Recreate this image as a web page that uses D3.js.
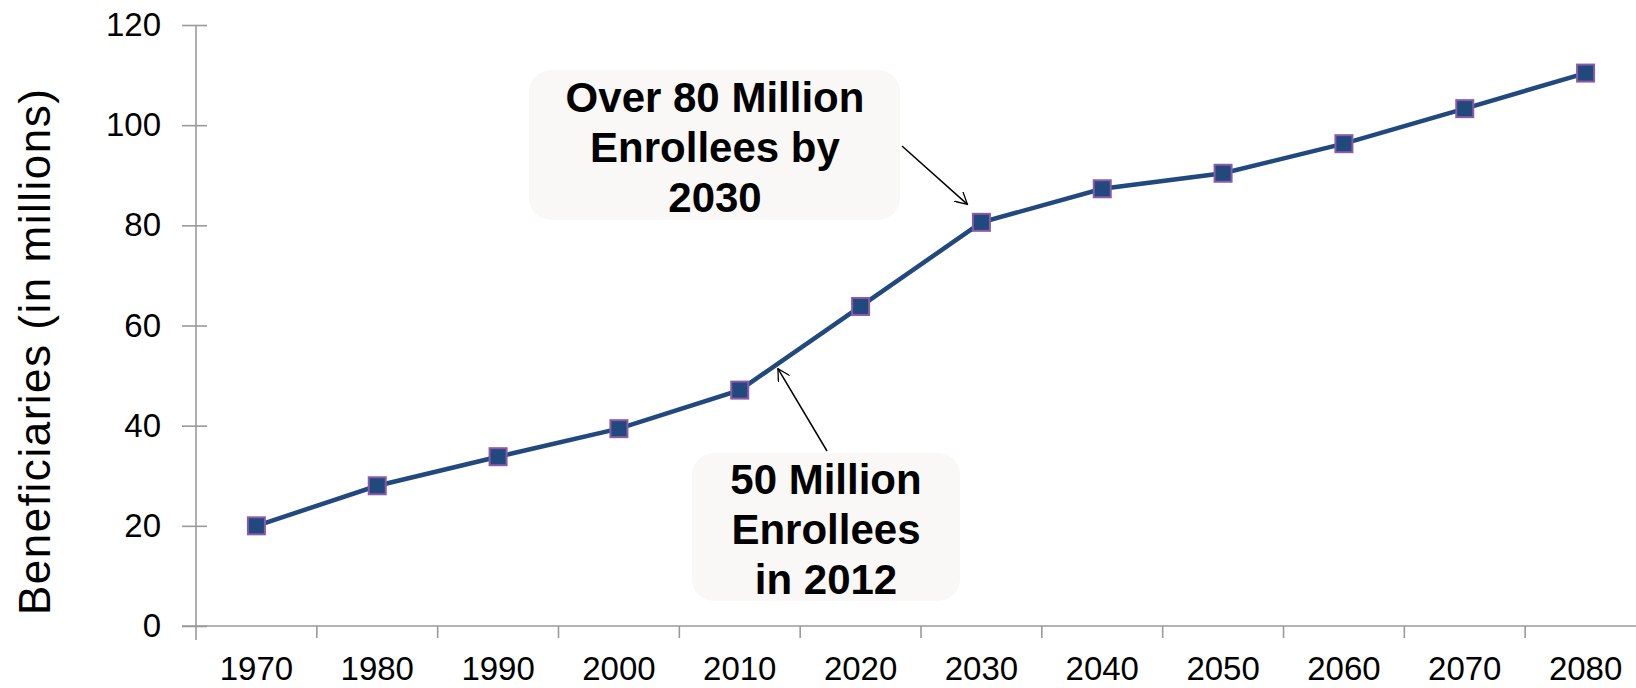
<!DOCTYPE html>
<html>
<head>
<meta charset="utf-8">
<script src="https://cdn.jsdelivr.net/npm/d3@7"></script>
<style>
  body { margin: 0; background: #fff; }
  svg { display: block; }
</style>
</head>
<body>
<div class="chart"></div>
<script>
var years = ['1970','1980','1990','2000','2010','2020','2030','2040','2050','2060','2070','2080'];
var beneficiaries = [20, 28, 33.8, 39.4, 47.1, 63.8, 80.6, 87.3, 90.4, 96.3, 103.3, 110.4];
var yTicks = [0, 20, 40, 60, 80, 100, 120];

var notes = [
  { lines: ['Over 80 Million', 'Enrollees by', '2030'], year: 2030, value: 80.6 },
  { lines: ['50 Million', 'Enrollees', 'in 2012'], year: 2012, value: 50 }
];

var size = { width: 1636, height: 688 };

var svg = d3.select('.chart')
            .append('svg')
            .attr('width', size.width)
            .attr('height', size.height);

// plot area (right side runs a bit past the window, like the original)
var x = d3.scaleBand().domain(years).range([196, 1646]);
var y = d3.scaleLinear().domain([0, 120]).range([626, 25]);

// numeric year -> x, for pointing the arrows between categories
var xYear = d3.scaleLinear().domain([1970, 2080])
              .range([x('1970') + x.bandwidth() / 2, x('2080') + x.bandwidth() / 2]);

var axisColor = '#9a9a9a';
var labelFont = '"Liberation Sans", Arial, sans-serif';

// y axis
var yAxis = svg.append('g').attr('transform', 'translate(196,0)')
  .call(d3.axisLeft(y).tickValues(yTicks).tickSize(14).tickPadding(21));
yAxis.select('.domain').remove();
yAxis.selectAll('.tick line').attr('x2', -14).attr('x1', 11).attr('stroke', axisColor).attr('stroke-width', 1.6);
yAxis.append('line').attr('x1', 0).attr('x2', 0).attr('y1', 25).attr('y2', 640)
  .attr('stroke', axisColor).attr('stroke-width', 1.6);
yAxis.selectAll('.tick text')
  .attr('font-family', labelFont).attr('font-size', 33).attr('fill', '#000');

// x axis
var xAxis = svg.append('g').attr('transform', 'translate(0,626)')
  .call(d3.axisBottom(x).tickSize(0));
xAxis.select('.domain').remove();
xAxis.append('line').attr('x1', 182).attr('x2', 1646).attr('y1', 0).attr('y2', 0)
  .attr('stroke', axisColor).attr('stroke-width', 1.6);
xAxis.selectAll('.sep').data(years.slice(1)).enter().append('line')
  .attr('class', 'sep')
  .attr('x1', function(d){ return x(d); }).attr('x2', function(d){ return x(d); })
  .attr('y1', 0).attr('y2', 12)
  .attr('stroke', axisColor).attr('stroke-width', 1.6);
xAxis.selectAll('.tick text')
  .attr('y', 54).attr('dy', null)
  .attr('font-family', labelFont).attr('font-size', 33).attr('fill', '#000');

// y axis title
svg.append('text')
  .attr('transform', 'translate(50,352) rotate(-90)')
  .attr('text-anchor', 'middle')
  .attr('font-family', labelFont)
  .attr('font-size', 44)
  .attr('textLength', 526)
  .attr('lengthAdjust', 'spacing')
  .attr('fill', '#000')
  .text('Beneficiaries (in millions)');

// series
var cx = function(d, i){ return x(years[i]) + x.bandwidth() / 2; };
var line = d3.line().x(cx).y(function(d){ return y(d); });

svg.append('path')
  .datum(beneficiaries)
  .attr('d', line)
  .attr('fill', 'none')
  .attr('stroke', '#21497e')
  .attr('stroke-width', 4.5);

svg.selectAll('rect.marker')
  .data(beneficiaries)
  .enter()
  .append('rect')
  .attr('class', 'marker')
  .attr('x', function(d, i){ return cx(d, i) - 8.5; })
  .attr('y', function(d){ return y(d) - 8.5; })
  .attr('width', 17)
  .attr('height', 17)
  .attr('fill', '#21497e')
  .attr('stroke', '#8b5aa8')
  .attr('stroke-width', 2);

// callouts
var boxes = [
  { x: 529, y: 70, w: 371, h: 150, cx: 715, firstLine: 112, arrowFrom: [902, 146], arrowTo: [xYear(2030) - 14, y(80.6) - 18] },
  { x: 692, y: 453, w: 268, h: 148, cx: 826, firstLine: 494, arrowFrom: [827, 451], arrowTo: [xYear(2012) + 14, y(50) - 7] }
];

svg.append('defs').append('marker')
  .attr('id', 'open')
  .attr('viewBox', '0 0 12 12')
  .attr('refX', 11).attr('refY', 6)
  .attr('markerWidth', 13).attr('markerHeight', 13)
  .attr('markerUnits', 'userSpaceOnUse')
  .attr('orient', 'auto')
  .append('path')
  .attr('d', 'M0,0 L11,6 L0,12')
  .attr('fill', 'none')
  .attr('stroke', '#000')
  .attr('stroke-width', 1.2);

notes.forEach(function(n, k){
  var b = boxes[k];
  svg.append('rect')
    .attr('x', b.x).attr('y', b.y).attr('width', b.w).attr('height', b.h)
    .attr('rx', 22).attr('ry', 22)
    .attr('fill', '#f9f8f6');
  var t = svg.append('text')
    .attr('text-anchor', 'middle')
    .attr('font-family', labelFont)
    .attr('font-weight', 'bold')
    .attr('font-size', 42)
    .attr('fill', '#000');
  n.lines.forEach(function(s, i){
    t.append('tspan').attr('x', b.cx).attr('y', b.firstLine + i * 50).text(s);
  });
  svg.append('line')
    .attr('x1', b.arrowFrom[0]).attr('y1', b.arrowFrom[1])
    .attr('x2', b.arrowTo[0]).attr('y2', b.arrowTo[1])
    .attr('stroke', '#000').attr('stroke-width', 1.5)
    .attr('marker-end', 'url(#open)');
});
</script>
</body>
</html>
